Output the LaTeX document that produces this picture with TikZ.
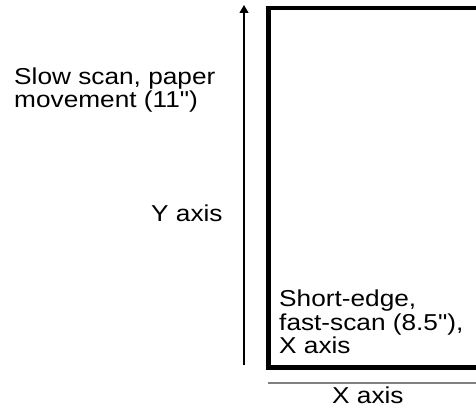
\documentclass[tikz,border=0pt]{standalone}
\usepackage{fontspec}
\setmainfont{Liberation Sans}[Ligatures=TeXOff]
\usetikzlibrary{arrows.meta}

\begin{document}
\begin{tikzpicture}[x=1pt, y=-1pt,
		note/.style={anchor=north west, inner sep=0pt, align=left, xscale=1.14,
			font=\fontsize{23}{23.5}\selectfont},
		paper/.style={line width=4.5pt},
		axis/.style={line width=1.1pt, -{Triangle[length=8pt,width=9pt]}}]
			%%%%% START %%%%%
			\useasboundingbox (0, 0) rectangle (476, 412);
			
			\draw[paper] (268.5, 8) rectangle (484, 367.5);
			
			\coordinate (ybot) at (244, 365);
			\coordinate (ytop) at (244, 5);
			\draw[axis] (ybot) -- (ytop);
			
			\coordinate (xleft) at (268, 383);
			\coordinate (xright) at (476, 383);
			\draw[line width=1.2pt, color=black!50] (xleft) -- (xright);
			
			\node[note] (slow) at (14, 67.5) {Slow scan, paper\\movement (11")};
			\node[note] (yaxis) at (151, 204.5) {Y axis};
			\node[note] (short) at (279, 290) {Short-edge,\\fast-scan (8.5"),\\X axis};
			\node[note] (xaxis) at (332, 386.5) {X axis};
			
			%%%%% END %%%%%
		\end{tikzpicture}
\end{document}
